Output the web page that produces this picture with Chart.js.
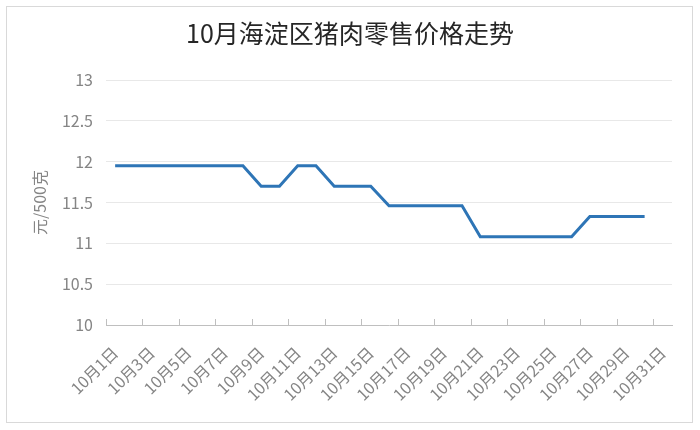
<!DOCTYPE html>
<html lang="zh">

<head>
  <meta charset="UTF-8">
  <title>10月海淀区猪肉零售价格走势</title>
  <script src="https://cdn.jsdelivr.net/npm/chart.js"></script>
  <style>
    body { margin: 0; background: #fff; }
    .wrap { position: relative; width: 700px; height: 430px; }
    .frame { position: absolute; left: 6px; top: 6px; width: 685px; height: 415px; border: 1px solid #d9d9d9; }
    canvas { position: absolute; left: 0; top: 0; }
  </style>
</head>

<body>
  <div class="wrap">
    <div class="frame"></div>
    <canvas id="priceChart" width="700" height="430"></canvas>
  </div>

  <script>
    // days of October
    const days = [];
    for (let d = 1; d <= 31; d++) days.push('10月' + d + '日');

    // pork retail price, yuan per 500g (no value for the 31st)
    const prices = [
      11.95, 11.95, 11.95, 11.95, 11.95, 11.95, 11.95, 11.95,
      11.70, 11.70,
      11.95, 11.95,
      11.70, 11.70, 11.70,
      11.46, 11.46, 11.46, 11.46, 11.46,
      11.08, 11.08, 11.08, 11.08, 11.08, 11.08,
      11.33, 11.33, 11.33, 11.33,
      null
    ];

    const yTicks = [10, 10.5, 11, 11.5, 12, 12.5, 13];

    const fontFamily = '"Noto Sans CJK SC", "Noto Sans", sans-serif';
    const gray = '#858585';

    var ctx = document.getElementById('priceChart').getContext('2d');
    var priceChart = new Chart(ctx, {
      type: 'line',
      data: {
        labels: days,
        datasets: [{
          label: '价格',
          data: prices,
          borderColor: '#2E75B6',
          borderWidth: 3,
          pointRadius: 0,
          tension: 0,
          fill: false
        }]
      },
      options: {
        responsive: false,
        animation: false,
        layout: { padding: 0 },
        plugins: {
          legend: { display: false },
          tooltip: { enabled: false },
          title: {
            display: true,
            text: '10月海淀区猪肉零售价格走势',
            color: '#262626',
            font: { family: fontFamily, size: 25, weight: 'normal' },
            padding: { top: 18, bottom: 32 }
          }
        },
        scales: {
          x: {
            offset: true,
            grid: {
              offset: true,
              drawOnChartArea: false,
              drawTicks: true,
              tickLength: -6,
              tickColor: c => (c.index !== undefined && c.index % 2 === 0) ? '#bfbfbf' : 'rgba(0,0,0,0)'
            },
            border: { display: true, color: '#bfbfbf', width: 1 },
            ticks: {
              autoSkip: false,
              minRotation: 45,
              maxRotation: 45,
              padding: 24,
              color: gray,
              font: { family: fontFamily, size: 16 },
              callback: function (value, index) {
                return index % 2 === 0 ? this.getLabelForValue(value) : '';
              }
            },
            afterFit: scale => {
              scale.height = 105;
              scale.paddingRight = 28;
            }
          },
          y: {
            min: 10,
            max: 13,
            afterBuildTicks: scale => { scale.ticks = yTicks.map(v => ({ value: v })); },
            grid: {
              drawTicks: false,
              color: c => c.tick && c.tick.value === 10 ? 'rgba(0,0,0,0)' : '#e8e8e8'
            },
            border: { display: false },
            ticks: {
              padding: 13,
              color: gray,
              font: { family: fontFamily, size: 16 },
              callback: v => String(v)
            },
            title: {
              display: true,
              text: '元/500克',
              color: gray,
              font: { family: fontFamily, size: 16 },
              padding: { top: 30, bottom: 0 }
            },
            afterFit: scale => { scale.width = 106; }
          }
        }
      }
    });
  </script>
</body>

</html>
